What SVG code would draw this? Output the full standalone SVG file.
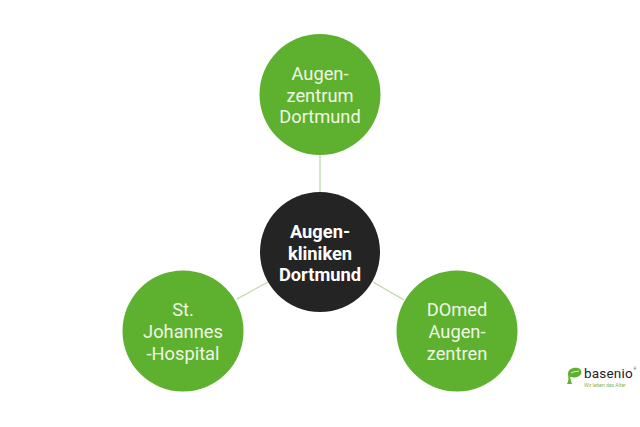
<svg xmlns="http://www.w3.org/2000/svg" width="640" height="427" viewBox="0 0 640 427">
<style>
.g{fill:#5eb02f}
.t{font-family:Roboto,"Liberation Sans",sans-serif;font-size:18.3px;font-weight:400;fill:#eff7e2;text-anchor:middle}
.b{font-weight:700;font-size:18.3px;fill:#fff}
.c line{stroke:#bcd5a8;stroke-width:1.2}
.l{font-family:Roboto,"Liberation Sans",sans-serif}
</style>
<rect width="640" height="427" fill="#fff"/>
<g class="c" id="connectors">
<line x1="320" y1="154" x2="320" y2="193"/>
<line x1="237" y1="299" x2="268" y2="282"/>
<line x1="373" y1="282" x2="404" y2="300"/>
</g>
<g id="top"><circle class="g" cx="320" cy="94.500" r="60.500"/><text class="t" x="320" y="80">Augen-</text><text class="t" x="320" y="102">zentrum</text><text class="t" x="320" y="122.500">Dortmund</text></g>
<g id="center"><circle cx="320" cy="252" r="60" fill="#242424"/><text class="t b" x="320" y="238">Augen-</text><text class="t b" x="320" y="260">kliniken</text><text class="t b" x="320" y="281">Dortmund</text></g>
<g id="left"><circle class="g" cx="183" cy="331" r="60.500"/><text class="t" x="183" y="316">St.</text><text class="t" x="183" y="338">Johannes</text><text class="t" x="183" y="360">-Hospital</text></g>
<g id="right"><circle class="g" cx="457" cy="331" r="60.500"/><text class="t" x="457" y="316">DOmed</text><text class="t" x="457" y="338">Augen-</text><text class="t" x="457" y="360">zentren</text></g>
<g id="logo">
<path d="M568 374 C568 369 573 367 578 368 C581 369 582 372 581 374 C578 378 574 378 572 377 L570 377 C571 380 571 382 572 384 L567 384 C569 381 568.500 378 568 374Z" fill="#5eb02f"/>
<path d="M571 373 C574 371 576 372 579 371" fill="none" stroke="#fff" stroke-width="0.800"/>
<text class="l" x="584" y="378" font-size="13.500" letter-spacing="0.200" fill="#222">basenio</text>
<text class="l" x="584" y="386.500" font-size="5" fill="#7fb55a">Wir leben das Alter</text>
<text class="l" x="633.500" y="370" font-size="3.500" fill="#444">®</text>
</g>
</svg>
